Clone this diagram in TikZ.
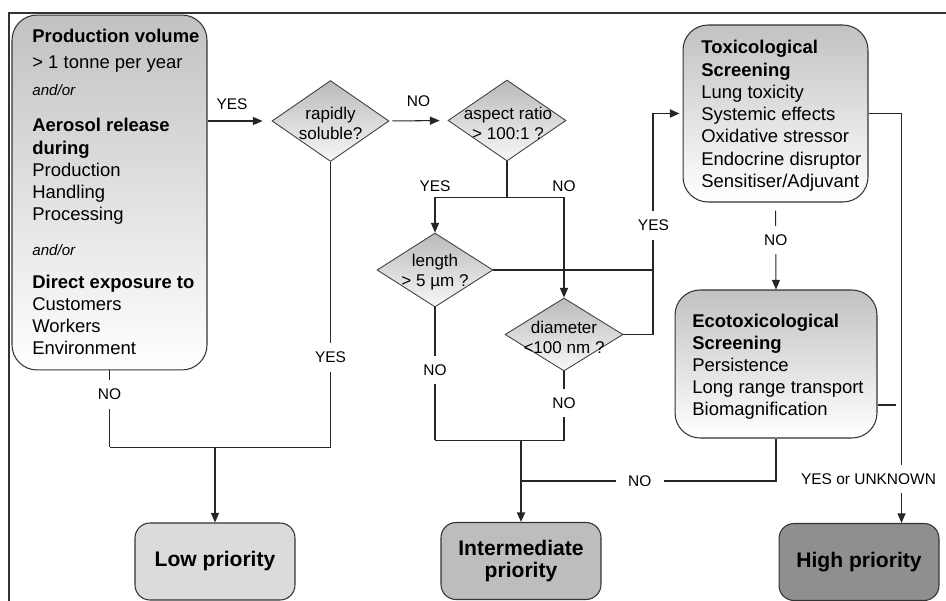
\documentclass[tikz,border=0pt]{standalone}
\usepackage{fontspec}
\setmainfont{Liberation Sans}
\usetikzlibrary{arrows.meta,calc,shapes.geometric}
\newcommand\andor{\fontsize{8.6}{12.5}\selectfont\itshape}

\begin{document}
\begin{tikzpicture}[x=0.02cm,y=-0.02cm,
		conn/.style={draw=black!85,line width=0.6pt},
		thickconn/.style={draw=black!85,line width=1.1pt},
		>={Triangle[length=5.5pt,width=4.6pt]},
		screenbox/.style={draw=black!80,line width=0.6pt,rounded corners=0.5cm,top color=black!24,bottom color=white},
		question/.style={diamond,draw=black!75,line width=0.5pt,top color=black!27,bottom color=black!3,inner sep=0pt},
		qtext/.style={font=\fontsize{9.7}{11.4}\selectfont,align=center,inner sep=0pt},
		boxtext/.style={font=\fontsize{10.5}{12.5}\selectfont,align=left,inner sep=0pt,anchor=north west},
		priobox/.style={draw=black!80,line width=0.6pt,rounded corners=0.3cm,minimum width=3.2cm,minimum height=1.54cm,font=\fontsize{12}{13}\selectfont\bfseries,align=center},
		lbl/.style={font=\fontsize{8.8}{10}\selectfont,inner sep=1pt},
		gaplbl/.style={font=\fontsize{8.8}{10}\selectfont,fill=white,inner xsep=7pt,inner ysep=5pt}]
		\useasboundingbox (0,0) rectangle (946,601);
		\draw[black!80,line width=1.2pt] (9,601) -- (9,13) -- (946,13);
		\node[screenbox,minimum width=3.9cm,minimum height=7.1cm] (input) at (109.5,192.5) {};
		\node[boxtext] (inputtext) at (32,29) {\textbf{Production volume}\\[2.3pt] > 1 tonne per year\\[3pt] {\andor and/or}\\[7.5pt] \textbf{Aerosol release}\\[1.1pt] \textbf{during}\\ Production\\ Handling\\ Processing\\[7.4pt] {\andor and/or}\\[6.2pt] \textbf{Direct exposure to}\\ Customers\\ Workers\\ Environment};
		\node[question,minimum width=2.34cm,minimum height=1.62cm] (soluble) at (330.5,121) {};
		\node[qtext] (solubletext) at (330.5,123) {rapidly\\soluble?};
		\node[question,minimum width=2.36cm,minimum height=1.62cm] (aspect) at (507,120.5) {};
		\node[qtext] (aspecttext) at (508,123) {aspect ratio\\> 100:1 ?};
		\node[question,minimum width=2.32cm,minimum height=1.48cm] (length) at (435,270) {};
		\node[qtext] (lengthtext) at (435,272) {length\\> 5 µm ?};
		\node[question,minimum width=2.36cm,minimum height=1.46cm] (diameter) at (564,334.5) {};
		\node[qtext] (diametertext) at (564,337) {diameter\\<100 nm ?};
		\node[screenbox,minimum width=3.7cm,minimum height=3.54cm] (tox) at (775.5,113.5) {};
		\node[boxtext,font=\fontsize{10.5}{12.7}\selectfont] (toxtext) at (701,40) {\textbf{Toxicological}\\ \textbf{Screening}\\ Lung toxicity\\ Systemic effects\\ Oxidative stressor\\ Endocrine disruptor\\ Sensitiser/Adjuvant};
		\node[screenbox,minimum width=4.04cm,minimum height=2.96cm] (eco) at (776,364) {};
		\node[boxtext] (ecotext) at (692,314) {\textbf{Ecotoxicological}\\ \textbf{Screening}\\ Persistence\\ Long range transport\\ Biomagnification};
		\node[priobox,fill=black!14] (low) at (215,561.5) {Low priority};
		\node[priobox,fill=black!26] (inter) at (521,561) {Intermediate\\priority};
		\node[priobox,fill=black!44] (high) at (859,562) {High priority};
		\draw[conn,->,shorten >=0.18cm] (input.east |- soluble.west) -- node[lbl,above=5pt,xshift=-0.15cm] {YES} (soluble.west);
		\draw[conn,->,shorten <=0.06cm,shorten >=0.16cm] (soluble.east) -- node[lbl,above=7pt] {NO} (aspect.west);
		\draw[conn] (aspect.south) -- ++(0,36) coordinate (split);
		\draw[conn,->] (split) -| node[lbl,above=2pt] {YES} (length.north);
		\draw[conn,->] (split) -| node[lbl,above=2pt] {NO} (diameter.north);
		\draw[thickconn,->,shorten >=0.06cm] (diameter.east) -- ++(30,0) coordinate (yesbend) |- node[gaplbl,pos=0.247] {YES} (tox.west);
		\draw[thickconn] (length.east) -- (length.east -| yesbend);
		\draw[conn] (input.south) -- node[gaplbl,pos=0.31] {NO} ++(0,77) coordinate (lowleft);
		\draw[conn] (soluble.south) -- node[gaplbl,pos=0.685] {YES} (soluble.south |- lowleft) -- (lowleft);
		\draw[conn,->] (low.north |- lowleft) -- (low.north);
		\draw[conn] (length.south) -- node[gaplbl,pos=0.47] {NO} ++(0,133) coordinate (midleft);
		\draw[conn] (diameter.south) -- node[gaplbl,pos=0.46] {NO} (diameter.south |- midleft) -- (midleft);
		\draw[thickconn,->] (inter.north |- midleft) -- (inter.north);
		\draw[conn] (eco.south) |- node[gaplbl,pos=0.767] {NO} (inter.north |- 0,481);
		\draw[conn,->,shorten <=0.16cm] (tox.south) -- node[gaplbl,pos=0.43] {NO} (eco.north);
		\draw[conn,->] (tox.east) -- ++(33,0) coordinate (totop) -- node[gaplbl,pos=0.893,xshift=-0.66cm] {YES or UNKNOWN} (totop |- high.north);
		\draw[conn] ($(eco.east)+(0,41)$) -- ++(18,0);
\end{tikzpicture}
\end{document}
